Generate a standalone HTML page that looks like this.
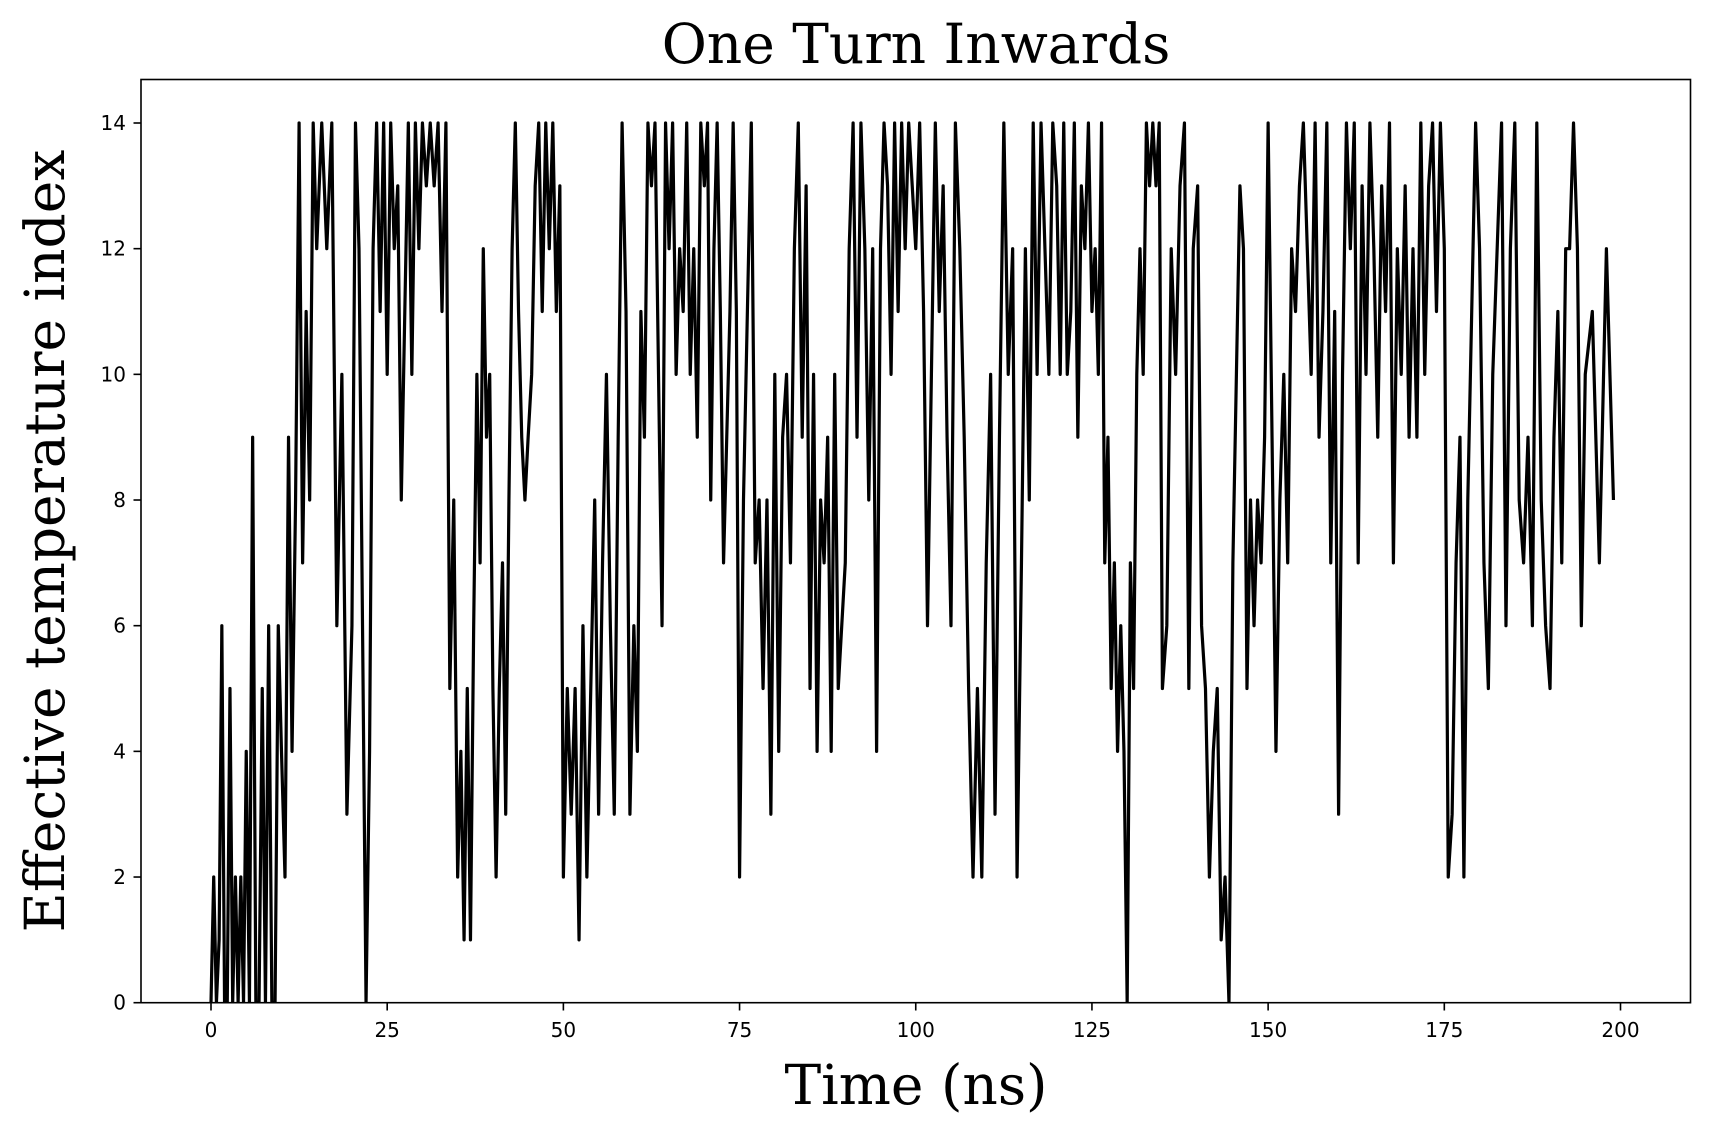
<!DOCTYPE html>
<html><head><meta charset="utf-8"><style>
html,body{margin:0;padding:0;background:#fff;}
svg{display:block;}
</style></head><body>
<svg id="chart" width="1710" height="1136" viewBox="0 0 1710 1136" xmlns="http://www.w3.org/2000/svg">
<rect x="0" y="0" width="1710" height="1136" fill="#fff"/>
<text x="916" y="63" text-anchor="middle" font-family="'DejaVu Serif','Liberation Serif',serif" font-size="55">One Turn Inwards</text>
<text x="916" y="1104" text-anchor="middle" font-family="'DejaVu Serif','Liberation Serif',serif" font-size="55">Time (ns)</text>
<text transform="translate(64,541) rotate(-90)" text-anchor="middle" font-family="'DejaVu Serif','Liberation Serif',serif" font-size="55">Effective temperature index</text>
<g id="ticks"></g>
<clipPath id="clip"><rect x="141" y="79" width="1550" height="924"/></clipPath>
<g id="series" clip-path="url(#clip)"></g>
<rect x="141" y="79.5" width="1549.5" height="923.2" fill="none" stroke="#000" stroke-width="1.6"/>
</svg>
<script>
const xTicks = [0,25,50,75,100,125,150,175,200];
const yTicks = [0,2,4,6,8,10,12,14];
const segmentSpan = 5;
const segments = [
[0,2,0,1,6,0,0,5,0,2,0,2,0],
[4,0,9,0,0,5,0,6,0,0,6],
[4,2,9,4,8,14,7,11,8,14],
[12,14,12,14,6,10,3],
[6,14,12,6,0,4,12,14,11,14],
[10,14,12,13,8,11,14,10,14,12],
[14,13,14,13,14,11,14,5,8],
[2,4,1,5,1,6,10,7,12,9,10],
[5,2,5,7,3,8,12,14,11,9,8],
[9,10,13,14,11,14,12,14,11,13],
[2,5,3,5,1,6,2,5,8],
[3,7,10,6,3,9,14,11,3],
[6,4,11,9,14,13,14,10,6,14],
[12,14,10,12,11,14,10,12,9,14],
[13,14,8,12,14,11,7,9,11,14,11],
[2,8,11,14,7,8,5,8,3],
[10,4,9,10,7,12,14,9,13],
[5,10,4,8,7,9,4,10,5,6],
[7,12,14,9,14,12,8,12,4],
[12,14,13,10,14,11,14,12,14,13],
[12,14,11,6,10,14,11,13,9],
[6,14,12,9,5,2,5,2],
[7,10,3,9,14,10,12,2],
[7,12,8,14,10,14,12,10,14],
[13,10,14,10,11,14,9,13,12,14],
[11,12,10,14,7,9,5,7,4,6,4],
[0,7,5,10,12,10,14,13,14,13,14],
[5,6,12,10,13,14,5,12],
[13,6,5,2,4,5,1,2,0],
[7,10,13,12,5,8,6,8,7,9],
[14,9,4,8,10,7,12,11,13],
[14,12,10,14,9,11,14,7,11],
[3,10,14,12,14,7,13,10,14],
[12,9,13,11,14,7,12,10,13],
[9,12,9,14,10,13,14,11,14],
[12,2,3,7,9,2,8,11,14],
[12,7,5,10,12,14,6,12],
[14,8,7,9,6,14,8,6],
[5,9,11,7,12,12,14,12,6],
[10,11,7,12,8]
];
const NS="http://www.w3.org/2000/svg";
const X0=211, X1=1620.5, Y0=1002.7, Y14=123;
function xs(t){return X0+t*(X1-X0)/200;}
function ys(v){return Y0+v*(Y14-Y0)/14;}
const tg=document.getElementById('ticks');
xTicks.forEach(t=>{
  const l=document.createElementNS(NS,'line');
  l.setAttribute('x1',xs(t));l.setAttribute('x2',xs(t));l.setAttribute('y1',1002.7);l.setAttribute('y2',1010.5);
  l.setAttribute('stroke','#000');l.setAttribute('stroke-width','1.6');
  
  
  tg.appendChild(l);
  const tx=document.createElementNS(NS,'text');
  tx.setAttribute('x',xs(t));tx.setAttribute('y',1037);tx.setAttribute('text-anchor','middle');
  tx.setAttribute('font-family',"'DejaVu Sans','Liberation Sans',sans-serif");tx.setAttribute('font-size','20');
  tx.textContent=t;
  
  
  tg.appendChild(tx);
});
yTicks.forEach(v=>{
  const l=document.createElementNS(NS,'line');
  l.setAttribute('x1',133.5);l.setAttribute('x2',141);l.setAttribute('y1',ys(v));l.setAttribute('y2',ys(v));
  l.setAttribute('stroke','#000');l.setAttribute('stroke-width','1.6');
  
  
  tg.appendChild(l);
  const tx=document.createElementNS(NS,'text');
  tx.setAttribute('x',126);tx.setAttribute('y',ys(v)+7);tx.setAttribute('text-anchor','end');
  tx.setAttribute('font-family',"'DejaVu Sans','Liberation Sans',sans-serif");tx.setAttribute('font-size','20');
  tx.textContent=v;
  
  
  tg.appendChild(tx);
});
let d='';
segments.forEach((seg,s)=>{
  seg.forEach((v,i)=>{
    const t=s*segmentSpan+i*segmentSpan/seg.length;
    d+=(d?'L':'M')+xs(t).toFixed(2)+','+ys(v).toFixed(2);
  });
});
const p=document.createElementNS(NS,'path');
p.setAttribute('d',d);p.setAttribute('fill','none');p.setAttribute('stroke','#000');
p.setAttribute('stroke-width','3.2');p.setAttribute('stroke-linejoin','round');


document.getElementById('series').appendChild(p);
</script>
</body></html>
